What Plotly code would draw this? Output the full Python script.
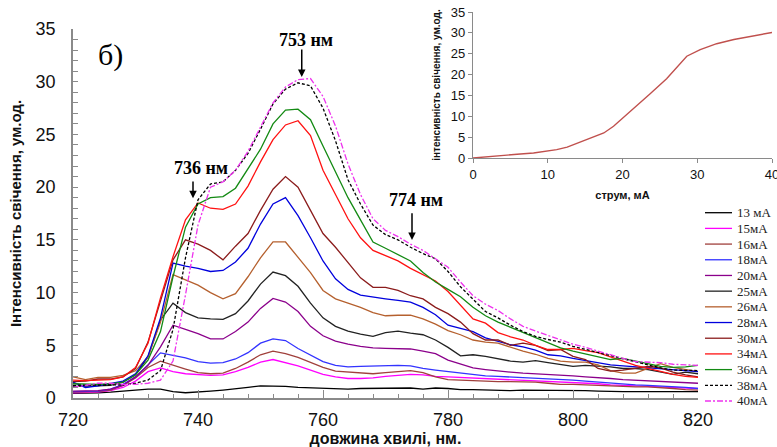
import plotly.graph_objects as go

# ---------------- data ----------------
wavelength = [720, 722, 724, 726, 728, 730, 732, 734, 736, 738,
              740, 742, 744, 746, 748, 750, 752, 754, 756, 758,
              760, 762, 764, 766, 768, 770, 772, 774, 776, 778,
              780, 782, 784, 786, 788, 790, 792, 794, 796, 798,
              800, 802, 804, 806, 808, 810, 812, 814, 816, 818, 820]

i13 = [0.45, 0.45, 0.5, 0.55, 0.65, 0.75, 0.85, 0.85, 0.6, 0.5,
       0.55, 0.65, 0.75, 0.85, 1.0, 1.15, 1.15, 1.1, 1.0, 0.95,
       0.9, 0.9, 0.85, 0.9, 0.9, 0.95, 0.9, 0.95, 0.85, 0.95,
       0.9, 0.8, 0.8, 0.75, 0.75, 0.7, 0.75, 0.75, 0.7, 0.75,
       0.7, 0.7, 0.65, 0.6, 0.6, 0.6, 0.6, 0.55, 0.6, 0.6, 0.6]
i15 = [0.5, 0.5, 0.55, 0.7, 1.0, 1.6, 2.5, 2.85, 2.5, 2.3,
       2.2, 2.15, 2.2, 2.5, 2.9, 3.4, 3.65, 3.35, 3.05, 2.65,
       2.25, 2.0, 1.85, 1.85, 1.9, 2.05, 2.15, 2.25, 2.2, 2.05,
       2.0, 1.95, 1.85, 1.8, 1.75, 1.7, 1.65, 1.6, 1.55, 1.5,
       1.5, 1.45, 1.35, 1.25, 1.2, 1.15, 1.1, 1.05, 1.0, 0.95, 0.9]
i16 = [0.55, 0.55, 0.6, 0.75, 1.2, 1.9, 2.9, 3.5, 3.1, 2.75,
       2.4, 2.3, 2.35, 2.8, 3.4, 4.1, 4.45, 4.2, 3.85, 3.35,
       2.9, 2.55, 2.45, 2.35, 2.3, 2.4, 2.5, 2.6, 2.4, 2.0,
       1.75, 1.7, 1.6, 1.55, 1.55, 1.55, 1.55, 1.5, 1.4, 1.3,
       1.3, 1.25, 1.2, 1.1, 1.05, 1.05, 1.05, 1.0, 0.9, 0.8, 0.75]
i18 = [0.6, 0.6, 0.65, 0.85, 1.3, 2.0, 3.1, 4.28, 4.05, 3.8,
       3.45, 3.3, 3.35, 3.7, 4.3, 5.2, 5.6, 5.45, 4.7, 4.05,
       3.45, 3.1, 2.95, 3.0, 3.05, 3.05, 3.1, 3.05, 2.8, 2.65,
       2.5, 2.35, 2.2, 2.1, 2.05, 2.0, 1.9, 1.85, 1.8, 1.75,
       1.7, 1.6, 1.5, 1.4, 1.3, 1.25, 1.2, 1.15, 1.05, 1.0, 0.9]
i20 = [0.65, 0.65, 0.7, 0.85, 1.2, 2.0, 3.1, 4.85, 6.9, 6.5,
       6.1, 5.6, 5.6, 6.3, 7.2, 8.5, 9.45, 9.1, 8.2, 6.8,
       5.9, 5.4, 5.1, 4.9, 4.75, 4.7, 4.7, 4.65, 4.45, 4.2,
       3.6, 3.2, 2.85, 2.7, 2.55, 2.45, 2.35, 2.3, 2.25, 2.2,
       2.1, 2.0, 1.95, 1.85, 1.75, 1.7, 1.65, 1.55, 1.5, 1.45, 1.4]
i25 = [1.1, 1.1, 1.15, 1.2, 1.5, 2.2, 3.9, 7.4, 9.0, 8.1,
       7.6, 7.5, 7.45, 8.0, 9.2, 10.8, 11.95, 11.6, 10.6, 9.0,
       7.6, 6.8, 6.35, 6.05, 5.85, 6.2, 6.35, 6.15, 6.0, 5.5,
       4.8, 4.0, 4.1, 3.95, 3.7, 3.5, 3.4, 3.55, 3.35, 3.15,
       3.0, 3.1, 3.05, 2.95, 2.8, 2.8, 2.7, 2.45, 2.25, 2.45, 2.3]
i26 = [2.0, 1.75, 1.95, 1.95, 2.15, 2.6, 3.9, 7.2, 11.7, 11.2,
       10.7, 10.0, 9.4, 9.9, 11.5, 13.3, 14.8, 14.8, 13.4, 11.9,
       10.2, 9.4, 9.0, 8.6, 8.1, 7.8, 7.85, 7.85, 7.5, 7.0,
       6.4, 6.0, 5.5, 5.3, 5.2, 4.8, 4.45, 4.15, 3.75, 3.5,
       3.4, 3.4, 3.15, 2.6, 2.35, 2.35, 2.8, 3.25, 2.9, 2.7, 2.5]
i28 = [1.5, 1.0, 1.15, 1.35, 1.6, 2.3, 4.0, 7.6, 12.8, 12.5,
       12.3, 12.0, 12.1, 12.9, 14.2, 16.5, 18.4, 19.0, 17.3, 15.2,
       13.0, 11.3, 10.3, 9.75, 9.55, 9.4, 9.25, 9.1, 8.6, 7.9,
       6.9, 6.6, 6.3, 5.7, 5.35, 5.05, 4.85, 4.55, 4.1, 4.0,
       3.75, 3.55, 3.35, 3.15, 3.05, 2.95, 2.9, 2.8, 2.65, 2.55, 2.5]
i30 = [1.55, 1.6, 1.8, 1.8, 2.0, 2.8, 5.3, 9.3, 13.1, 15.0,
       14.6, 14.0, 13.1, 14.4, 15.6, 17.8, 19.8, 21.0, 20.0, 17.8,
       15.6, 14.3, 12.8, 11.4, 10.5, 10.5, 10.2, 9.7, 9.4, 8.6,
       8.0, 7.2, 6.1, 5.5, 5.5, 5.0, 5.2, 5.0, 4.5, 4.6,
       3.95, 3.65, 2.8, 2.55, 2.65, 2.8, 3.0, 2.85, 2.45, 2.2, 2.0]
i34 = [1.7, 1.65, 1.7, 1.75, 2.0, 2.9, 5.2, 9.5, 13.4, 16.9,
       18.5, 18.0, 17.9, 18.4, 20.1, 22.4, 24.5, 25.9, 26.3, 24.9,
       21.6, 19.3, 17.0, 15.2, 14.0, 13.5, 13.0, 12.3, 11.7, 11.1,
       10.1, 8.8, 7.5, 7.1, 6.2, 5.8, 5.5, 5.0, 4.6, 4.6,
       4.7, 4.5, 4.3, 3.9, 3.5, 3.1, 2.8, 2.5, 2.25, 2.05, 1.95]
i36 = [1.35, 1.3, 1.3, 1.35, 1.5, 2.2, 3.6, 6.3, 11.5, 16.2,
       18.4, 19.0, 19.1, 19.9, 21.8, 23.6, 26.0, 27.3, 27.4, 26.4,
       23.9, 21.5, 19.0, 16.9, 14.8, 14.2, 13.6, 13.0, 11.9, 11.0,
       10.3, 9.6, 8.6, 7.8, 7.2, 6.7, 6.2, 5.7, 5.2, 4.75,
       4.45, 4.2, 3.9, 3.65, 3.75, 3.5, 3.3, 3.0, 2.9, 2.95, 3.1]
i38 = [1.2, 1.2, 1.2, 1.2, 1.25, 1.4, 1.7, 2.6, 6.5, 13.3,
       18.8, 20.3, 20.5, 21.6, 23.2, 25.5, 27.9, 29.3, 29.9, 29.6,
       27.5, 24.4, 20.7, 18.4, 16.4, 15.5, 15.0, 14.3, 13.7, 13.2,
       12.0, 10.55, 9.35, 8.2, 7.6, 6.9, 6.3, 5.85, 5.55, 5.3,
       4.9, 4.6, 4.35, 4.0, 3.7, 3.4, 3.1, 2.85, 2.65, 2.6, 2.6]
i40 = [1.0, 1.2, 1.4, 1.4, 1.3, 1.3, 1.4, 1.7, 3.5, 9.8,
       16.4, 20.0, 20.5, 21.6, 23.4, 25.7, 28.0, 29.5, 30.2, 30.3,
       28.6, 25.8, 22.2, 19.3, 17.0, 15.9, 15.3, 14.6, 14.0, 13.2,
       12.4, 11.0, 9.7, 8.9, 8.3, 7.5, 6.8, 6.35, 5.95, 5.55,
       5.1, 4.8, 4.45, 4.05, 3.75, 3.45, 3.4, 3.35, 3.2, 3.15, 3.1]

series_labels = ["13 мА", "15мА", "16мА", "18мА", "20мА", "25мА", "26мА",
                 "28мА", "30мА", "34мА", "36мА", "38мА", "40мА"]
series_values = [i13, i15, i16, i18, i20, i25, i26, i28, i30, i34, i36, i38, i40]

# inset: intensity vs current
current = [0, 3.7, 5.9, 8.1, 10.3, 11.2, 12.6, 14.4, 16.1, 17.5, 18.8,
           19.7, 21.5, 23.7, 25.9, 27.3, 28.6, 30.4, 32.6, 34.9, 37.1, 40]
inset_intensity = [0, 0.64, 0.9, 1.2, 1.7, 2.0, 2.6, 3.8, 5.0, 6.0, 7.6,
                   9.0, 11.8, 15.4, 19.0, 21.8, 24.4, 26.0, 27.4, 28.4, 29.2, 30.1]

# ---------------- styles ----------------
colors = ["#000000", "#ff00ff", "#a0403c", "#3333ff", "#8b008b", "#222222",
          "#b5602e", "#0000dd", "#8b1c1c", "#ff1111", "#138a13", "#000000", "#ee33ee"]
dashes = ["solid"] * 11 + ["3px,2px", "6px,2px,2px,2px"]

W, H = 777, 447
ML, MR, MT, MB = 73, 5, 11, 49
PW, PH = W - ML - MR, H - MT - MB


def px_x(p):
    return (p - ML) / PW


def px_y(p):
    return (H - MB - p) / PH


fig = go.Figure()
for lab, vals, col, dsh in zip(series_labels, series_values, colors, dashes):
    fig.add_trace(go.Scatter(x=wavelength, y=vals, mode="lines", name=lab,
                             line=dict(color=col, width=1.3, dash=dsh),
                             xaxis="x", yaxis="y", showlegend=False))

fig.add_trace(go.Scatter(x=current, y=inset_intensity, mode="lines",
                         line=dict(color="#c0504d", width=1.4),
                         xaxis="x2", yaxis="y2", showlegend=False))

axis_col = "#8a8a8a"
sans = "Liberation Sans, Arial, sans-serif"
serif = "Liberation Serif, Times New Roman, serif"

fig.update_layout(
    width=W, height=H,
    margin=dict(l=ML, r=MR, t=MT, b=MB, autoexpand=False),
    paper_bgcolor="white", plot_bgcolor="rgba(0,0,0,0)",
    xaxis=dict(domain=[0, px_x(698)], range=[720, 820], tick0=720, dtick=20,
               ticks="inside", ticklen=8, tickcolor=axis_col, tickwidth=1,
               showline=True, linecolor=axis_col, linewidth=1.5,
               showgrid=False, zeroline=False, ticklabelstandoff=5,
               tickfont=dict(family=sans, size=18, color="#111"),
               minor=dict(dtick=4, ticks="inside", ticklen=4, tickcolor=axis_col),
               title=dict(text="<b>довжина хвилі, нм.</b>",
                          font=dict(family=sans, size=16, color="#111"), standoff=5),
               anchor="y"),
    yaxis=dict(domain=[0, px_y(29)], range=[0, 35], tick0=0, dtick=5,
               ticks="inside", ticklen=5, tickcolor=axis_col, tickwidth=1,
               showline=True, linecolor=axis_col, linewidth=1.5,
               showgrid=False, zeroline=False, ticklabelstandoff=12,
               tickfont=dict(family=sans, size=18, color="#111"),
               minor=dict(dtick=1, ticks="inside", ticklen=5, tickcolor=axis_col),
               title=dict(text="<b>Інтенсивність свічення, ум.од.</b>",
                          font=dict(family=sans, size=15, color="#111"), standoff=10),
               anchor="x"),
    xaxis2=dict(domain=[px_x(473), 1.0], range=[0, 40], tick0=0, dtick=10,
                ticks="outside", ticklen=4, tickcolor=axis_col,
                showline=True, linecolor=axis_col, linewidth=1.2,
                showgrid=False, zeroline=False, ticklabeloverflow="allow",
                tickfont=dict(family=sans, size=13, color="#111"),
                title=dict(text="<b>струм, мА</b>",
                           font=dict(family=sans, size=11, color="#111"), standoff=10),
                anchor="y2"),
    yaxis2=dict(domain=[px_y(158), px_y(12)], range=[0, 35], tick0=0, dtick=5,
                ticks="outside", ticklen=4, tickcolor=axis_col,
                showline=True, linecolor=axis_col, linewidth=1.2,
                showgrid=False, zeroline=False,
                tickfont=dict(family=sans, size=13, color="#111"),
                title=dict(text="<b>інтенсивність свічення, ум.од.</b>",
                           font=dict(family=sans, size=10, color="#111"), standoff=8),
                anchor="x2"),
)

ann_font = dict(family=serif, size=18, color="#000")
annotations = [
    dict(x=725.97, y=32.55, xref="x", yref="y", text="б)", showarrow=False,
         font=dict(family=serif, size=30, color="#000")),
    dict(x=757.3, y=33.97, xref="x", yref="y", text="<b>753 нм</b>", showarrow=False, font=ann_font),
    dict(x=740.5, y=21.77, xref="x", yref="y", text="<b>736 нм</b>", showarrow=False, font=ann_font),
    dict(x=774.9, y=18.75, xref="x", yref="y", text="<b>774 нм</b>", showarrow=False, font=ann_font),
]
for (xa, ytip, ytail) in [(756.6, 30.45, 33.2), (739.2, 18.94, 20.67), (774.24, 14.98, 17.66)]:
    annotations.append(dict(x=xa, y=ytip, ax=xa, ay=ytail, xref="x", yref="y",
                            axref="x", ayref="y", text="", showarrow=True,
                            arrowhead=2, arrowsize=1, arrowwidth=1.5, arrowcolor="#000"))

# manual legend
shapes = []
for k, (lab, col, dsh) in enumerate(zip(series_labels, colors, dashes)):
    py = 212.7 + k * 15.69
    shapes.append(dict(type="line", xref="paper", yref="paper",
                       x0=px_x(705), x1=px_x(732), y0=px_y(py), y1=px_y(py),
                       line=dict(color=col, width=1.3, dash=dsh)))
    annotations.append(dict(x=px_x(735), y=px_y(py), xref="paper", yref="paper",
                            text=lab, showarrow=False, xanchor="left", yanchor="middle",
                            font=dict(family=serif, size=13, color="#222")))

fig.update_layout(annotations=annotations, shapes=shapes)
fig.write_html("out.html", config={"displayModeBar": False},
               post_script="document.body.style.margin='0';document.body.style.padding='0';")
